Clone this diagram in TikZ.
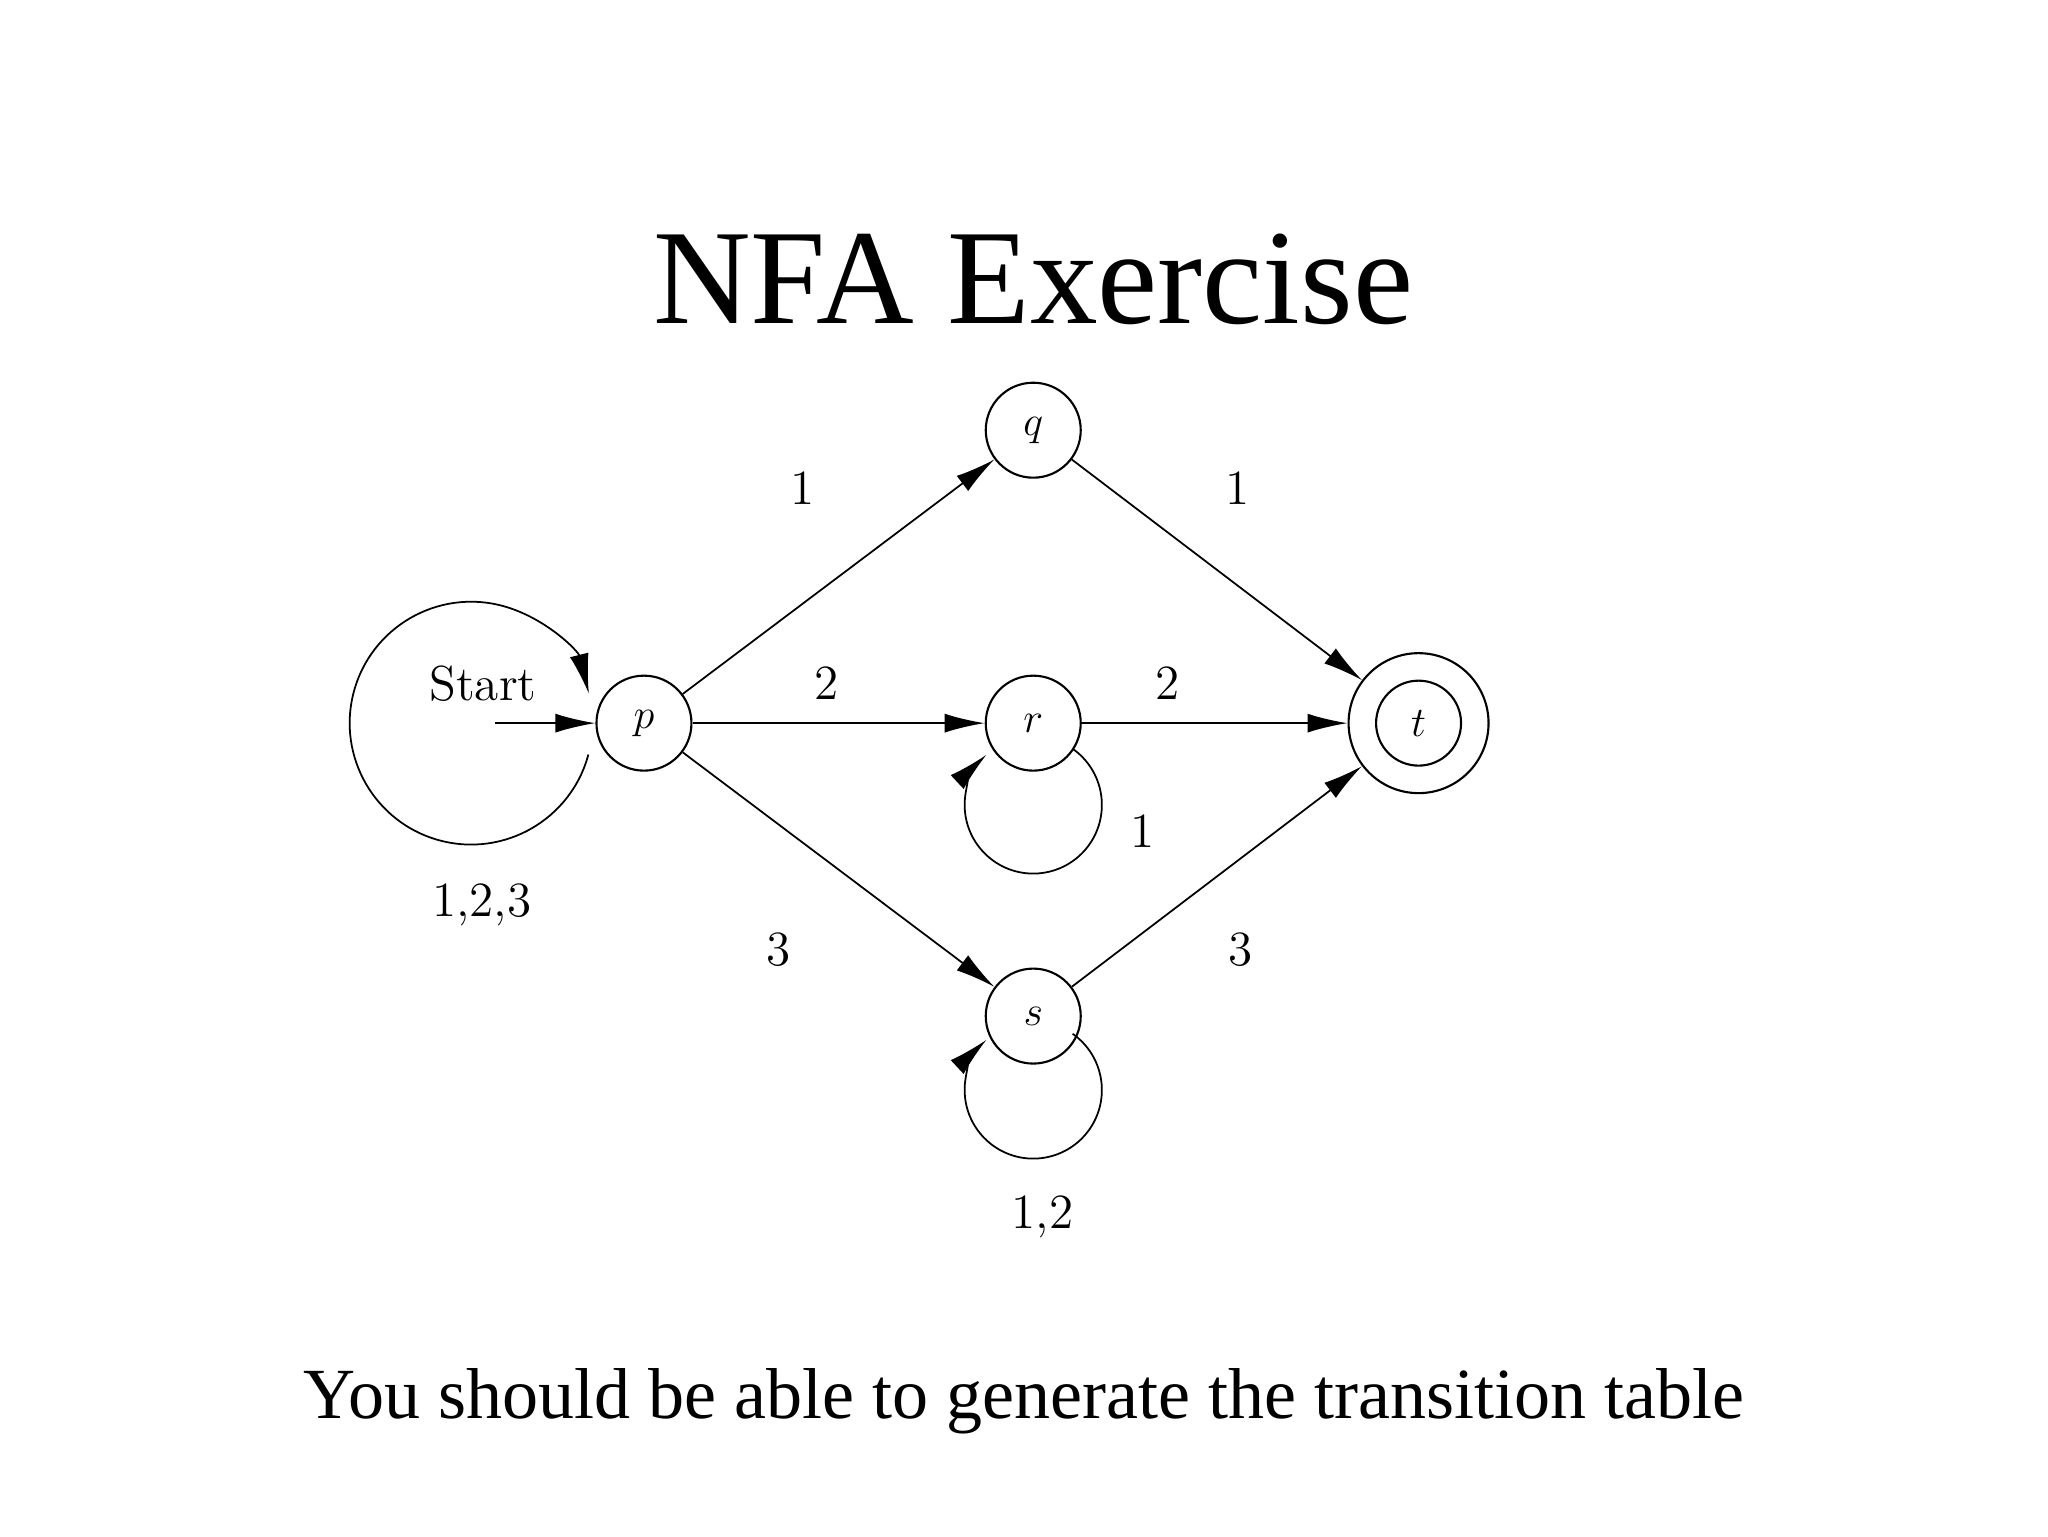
\documentclass[tikz,border=0pt]{standalone}
\usepackage{fontspec}
\newfontfamily\tms{Liberation Serif}
\usetikzlibrary{arrows.meta}
\begin{document}
\begin{tikzpicture}[x=0.013196cm,y=-0.013196cm,
  st/.style={circle,draw,line width=0.6pt,minimum size=0.95cm,inner sep=0pt,font=\fontsize{13}{13}\selectfont},
  lb/.style={font=\fontsize{14}{14}\selectfont},
  ar/.style={line width=0.5pt,-{Latex[length=0.4cm,width=0.19cm]}}]
\useasboundingbox (0,0) rectangle (1552,1164);
\node[font=\tms\fontsize{38.5}{38.5}\selectfont] (title) at (783,212) {NFA Exercise};
\node[font=\tms\fontsize{20.5}{20.5}\selectfont] (foot) at (776,1062) {You should be able to generate the transition table};
\node[st] (p) at (488,548) {$p$};
\node[st] (q) at (783,326) {$q$};
\node[st] (r) at (783,548) {$r$};
\node[st] (s) at (783,770) {$s$};
\node[st,minimum size=1.4cm] (t) at (1075,548) {$t$};
\node[circle,draw,line width=0.6pt,minimum size=0.85cm] (ti) at (t.center) {};
\coordinate (in) at (375,548);
\node[lb] (start) at (366,518) {Start};
\draw[ar] (in) -- (p);
\draw[ar] (357,548) ++(15:92) arc[start angle=15,end angle=346,radius=92];
\node[lb] at (365,686) {1,2,3};
\draw[ar] (p) -- (q);
\draw[ar] (p) -- (r);
\draw[ar] (p) -- (s);
\draw[ar] (q) -- (t);
\draw[ar] (r) -- (t);
\draw[ar] (s) -- (t);
\node[lb] at (608,370) {1};
\node[lb] at (938,370) {1};
\node[lb] at (626,518) {2};
\node[lb] at (885,518) {2};
\node[lb] at (590,720) {3};
\node[lb] at (940,720) {3};
\draw[ar] (783,610) ++(-55:52) arc[start angle=-55,end angle=227,radius=52];
\node[lb] at (866,630) {1};
\draw[ar] (783,826) ++(-55:52) arc[start angle=-55,end angle=227,radius=52];
\node[lb] at (790,922) {1,2};
\end{tikzpicture}
\end{document}
